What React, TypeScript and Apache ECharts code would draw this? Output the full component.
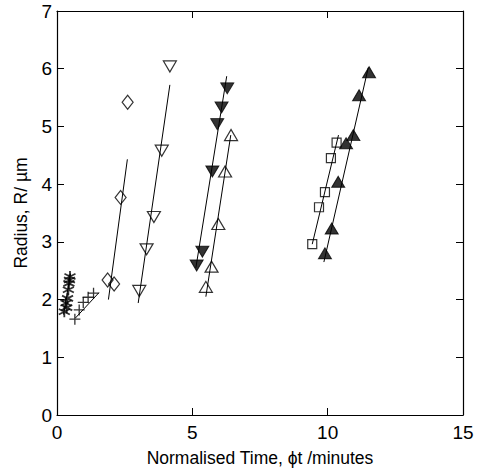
import React, { useEffect, useRef } from "react";
import * as echarts from "echarts";

const xTicks = [0, 5, 10, 15];
const yTicks = [0, 1, 2, 3, 4, 5, 6, 7];

const asterisks: [number, number][] = [[0.27, 1.79], [0.33, 1.94], [0.39, 2.02], [0.42, 2.17], [0.44, 2.28], [0.48, 2.40], [0.36, 1.86], [0.46, 2.34]];
const asteriskFit: [number, number][] = [[0.24, 1.74], [0.5, 2.45]];

const pluses: [number, number][] = [[0.66, 1.66], [0.82, 1.82], [0.97, 1.95], [1.15, 2.04], [1.35, 2.11]];
const plusFit: [number, number][] = [[0.68, 1.68], [1.55, 2.12]];

const diamonds: [number, number][] = [[1.87, 2.34], [2.11, 2.27], [2.35, 3.77], [2.61, 5.42]];
const diamondFit: [number, number][] = [[1.9, 2.0], [2.6, 4.43]];

const openDown: [number, number][] = [[3.04, 2.15], [3.31, 2.87], [3.58, 3.43], [3.87, 4.58], [4.17, 6.04]];
const openDownFit: [number, number][] = [[3.0, 1.94], [4.17, 5.72]];

const filledDown: [number, number][] = [[5.16, 2.59], [5.37, 2.83], [5.74, 4.22], [5.92, 5.04], [6.08, 5.33], [6.29, 5.66]];
const filledDownFit: [number, number][] = [[5.13, 2.55], [6.27, 5.87]];

const openUp: [number, number][] = [[5.50, 2.22], [5.71, 2.57], [5.96, 3.31], [6.21, 4.22], [6.43, 4.85]];
const openUpFit: [number, number][] = [[5.5, 2.05], [6.42, 4.85]];

const squares: [number, number][] = [[9.43, 2.96], [9.68, 3.60], [9.90, 3.86], [10.12, 4.45], [10.33, 4.72]];
const squareFit: [number, number][] = [[9.43, 2.96], [10.4, 4.85]];

const filledUp: [number, number][] = [[9.90, 2.80], [10.15, 3.23], [10.39, 4.04], [10.68, 4.71], [10.95, 4.85], [11.16, 5.54], [11.53, 5.94]];
const filledUpFit: [number, number][] = [[9.86, 2.65], [11.5, 6.02]];

const FONT = "Liberation Sans, Arial, sans-serif";

function App() {
  const ref = useRef<HTMLDivElement>(null);
  useEffect(() => {
    if (!ref.current) return;
    const chart = echarts.init(ref.current, null, { renderer: "svg" });
    const open = { color: "rgba(0,0,0,0)", borderColor: "#000", borderWidth: 1.2 };
    const filled = { color: "#000", borderColor: "#000", borderWidth: 1 };
    const scat = (data: [number, number][], symbol: string, size: any, style: any, rotate = 0) => ({
      type: "scatter",
      data,
      symbol,
      symbolSize: size,
      symbolRotate: rotate,
      itemStyle: style,
      z: 3,
    });
    const fit = (data: [number, number][]) => ({
      type: "line",
      data,
      symbol: "none",
      lineStyle: { color: "#000", width: 1 },
      z: 2,
    });
    const axisCommon = {
      axisLine: { show: true, onZero: false, lineStyle: { color: "#000", width: 1.2 } },
      axisTick: { show: true, inside: true, length: 7, lineStyle: { color: "#000", width: 1 } },
      splitLine: { show: false },
    };
    chart.setOption({
      animation: false,
      grid: { left: 57, top: 11, right: 15, bottom: 57 },
      xAxis: [
        {
          type: "value",
          min: 0,
          max: 15,
          interval: 5,
          ...axisCommon,
          axisLabel: { color: "#000", fontSize: 19, fontFamily: FONT, margin: 8, formatter: (v: number) => (xTicks.includes(v) ? String(v) : "") },
          name: "Normalised Time, \u03d5t /minutes",
          nameLocation: "middle",
          nameGap: 34,
          nameTextStyle: { color: "#000", fontSize: 17.5, fontFamily: FONT },
        },
        { type: "value", min: 0, max: 15, interval: 5, position: "top", ...axisCommon, axisLabel: { show: false } },
      ],
      yAxis: [
        {
          type: "value",
          min: 0,
          max: 7,
          interval: 1,
          ...axisCommon,
          axisLabel: { color: "#000", fontSize: 19, fontFamily: FONT, margin: 5, formatter: (v: number) => (yTicks.includes(v) ? String(v) : "") },
          name: "Radius, R/ \u00b5m",
          nameLocation: "middle",
          nameGap: 27,
          nameTextStyle: { color: "#000", fontSize: 17.5, fontFamily: FONT },
        },
        { type: "value", min: 0, max: 7, interval: 1, position: "right", ...axisCommon, axisLabel: { show: false } },
      ],
      series: [
        fit(asteriskFit),
        fit(plusFit),
        fit(diamondFit),
        fit(openDownFit),
        fit(filledDownFit),
        fit(openUpFit),
        fit(squareFit),
        fit(filledUpFit),
        scat(asterisks, "path://M0,-1L0,1M-0.87,-0.5L0.87,0.5M-0.87,0.5L0.87,-0.5", 11, { color: "rgba(0,0,0,0)", borderColor: "#000", borderWidth: 1.8 }),
        scat(pluses, "path://M0,-1L0,1M-1,0L1,0", 11, { color: "rgba(0,0,0,0)", borderColor: "#000", borderWidth: 1.3 }),
        scat(diamonds, "diamond", [11, 14], open),
        scat(openDown, "triangle", [13, 11], open, 180),
        scat(filledDown, "triangle", [13, 11], filled, 180),
        scat(openUp, "triangle", [13, 11], open),
        scat(squares, "rect", [9, 9], open),
        scat(filledUp, "triangle", [13, 11], filled),
      ],
    });
    return () => chart.dispose();
  }, []);
  return <div ref={ref} style={{ position: "absolute", left: 0, top: 0, width: 478, height: 472 }} />;
}

export default App;
